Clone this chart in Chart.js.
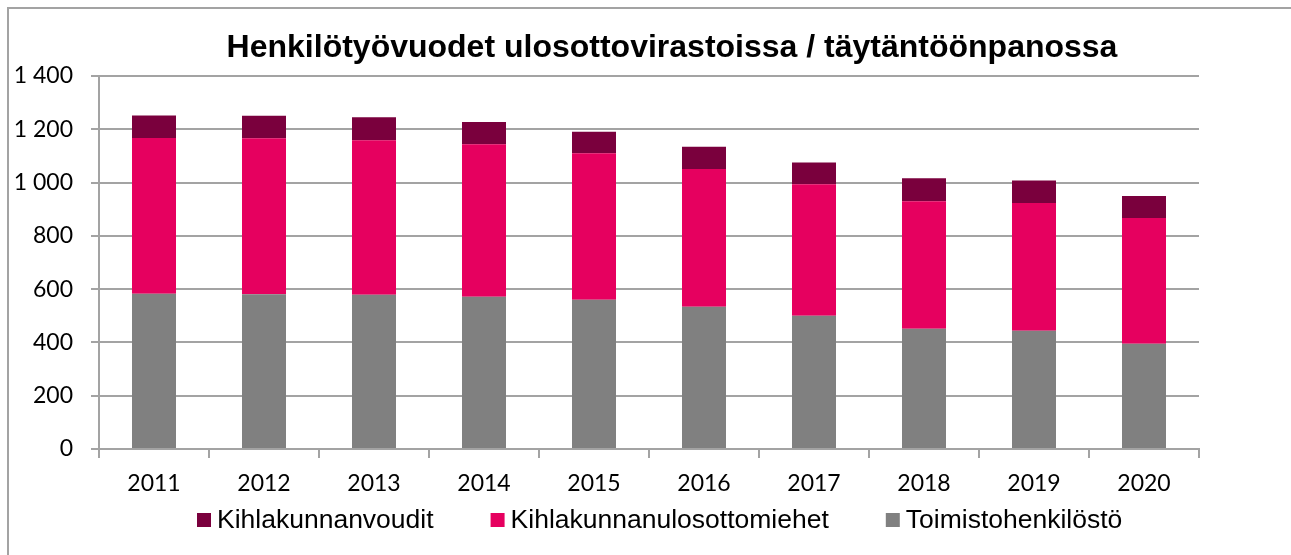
<!DOCTYPE html>
<html lang="fi">
<head>
<meta charset="utf-8">
<title>Henkilötyövuodet ulosottovirastoissa / täytäntöönpanossa</title>
<script src="https://cdn.jsdelivr.net/npm/chart.js@4/dist/chart.umd.min.js"></script>
<style>
  html, body { margin: 0; padding: 0; background: #fff; }
  #wrap { position: relative; width: 1291px; height: 555px; }
</style>
</head>
<body>
<div id="wrap"><canvas id="kaavio" width="1291" height="555"></canvas></div>
<script>
// vuodet ja henkilötyövuodet ryhmittäin
const vuodet = ['2011', '2012', '2013', '2014', '2015', '2016', '2017', '2018', '2019', '2020'];
const toimisto = [583, 581, 579, 571, 560, 534, 500, 451, 444, 395];
const ulosottomiehet = [584, 585, 580, 573, 550, 517, 494, 479, 479, 472];
const voudit = [85, 85, 86, 83, 81, 83, 81, 86, 85, 83];

const otsikko = 'Henkilötyövuodet ulosottovirastoissa / täytäntöönpanossa';

const harmaa = '#808080';
const pinkki = '#e6005f';
const viini = '#7a003d';
const viiva = '#a3a3a3';

// kehys, otsikko ja selite piirretään itse
const kehys = {
    id: 'kehys',
    beforeDraw: function(chart) {
        const ctx = chart.ctx;
        ctx.save();
        ctx.strokeStyle = viiva;
        ctx.lineWidth = 2;
        ctx.beginPath();
        ctx.moveTo(8, chart.height);
        ctx.lineTo(8, 8);
        ctx.lineTo(chart.width, 8);
        ctx.stroke();
        ctx.restore();
    },
    afterDraw: function(chart) {
        const ctx = chart.ctx;
        ctx.save();
        ctx.fillStyle = '#000';
        ctx.textBaseline = 'alphabetic';
        ctx.textAlign = 'center';
        ctx.font = 'bold 32px "Liberation Sans", Arial, sans-serif';
        ctx.fillText(otsikko, 672, 57);

        // selite käänteisessä järjestyksessä (ylin pino ensin)
        ctx.textAlign = 'left';
        ctx.font = '26.5px "Liberation Sans", Arial, sans-serif';
        let x = 197;
        const sarjat = chart.data.datasets.slice().reverse();
        sarjat.forEach(function(ds) {
            ctx.fillStyle = ds.backgroundColor;
            ctx.fillRect(x, 513, 14, 14);
            ctx.fillStyle = '#000';
            ctx.fillText(ds.label, x + 20, 528);
            x += 20 + ctx.measureText(ds.label).width + 57;
        });
        ctx.restore();
    }
};

const data = {
    labels: vuodet,
    datasets: [
        { label: 'Toimistohenkilöstö', data: toimisto, backgroundColor: harmaa },
        { label: 'Kihlakunnanulosottomiehet', data: ulosottomiehet, backgroundColor: pinkki },
        { label: 'Kihlakunnanvoudit', data: voudit, backgroundColor: viini }
    ]
};

const fontti = { family: 'Lato, "Open Sans", sans-serif', size: 23 };

const config = {
    type: 'bar',
    data: data,
    options: {
        responsive: false,
        animation: false,
        devicePixelRatio: 1,
        layout: { padding: { top: 76, left: 0, right: 92, bottom: 56 } },
        datasets: {
            bar: { barPercentage: 0.4, categoryPercentage: 1, borderWidth: 0 }
        },
        scales: {
            x: {
                stacked: true,
                afterFit: function(scale) { scale.height = 50; },
                grid: {
                    offset: true,
                    drawOnChartArea: false,
                    color: viiva,
                    lineWidth: 2,
                    tickLength: 9
                },
                border: { color: viiva, width: 2 },
                ticks: { color: '#000', font: fontti, padding: 12, maxRotation: 0 }
            },
            y: {
                stacked: true,
                min: 0,
                max: 1400,
                afterFit: function(scale) { scale.width = 99; },
                grid: { color: viiva, lineWidth: 2, tickLength: 8 },
                border: { color: viiva, width: 2 },
                ticks: {
                    stepSize: 200,
                    color: '#000',
                    font: fontti,
                    padding: 18,
                    callback: function(v) {
                        return String(v).replace(/\B(?=(\d{3})+(?!\d))/g, ' ');
                    }
                }
            }
        },
        plugins: {
            legend: { display: false },
            title: { display: false },
            tooltip: { enabled: false }
        }
    },
    plugins: [kehys]
};

new Chart(document.getElementById('kaavio'), config);
</script>
</body>
</html>
